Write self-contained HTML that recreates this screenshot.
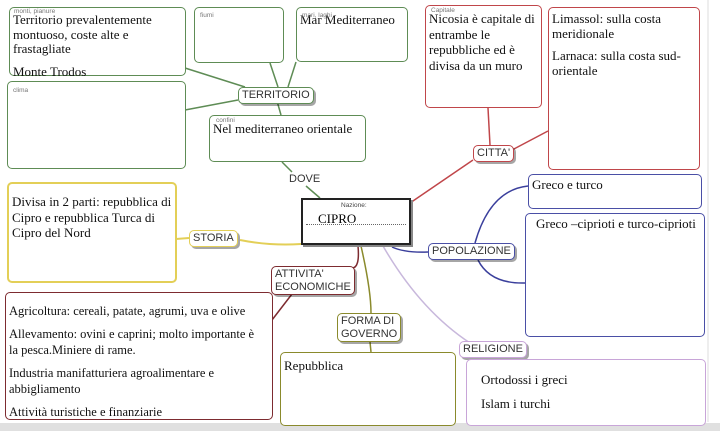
<!DOCTYPE html>
<html><head><meta charset="utf-8"><style>
*{margin:0;padding:0;box-sizing:border-box}
body{width:720px;height:431px;background:#fff;position:relative;overflow:hidden;font-family:"Liberation Serif",serif}
.b{position:absolute;border:1.5px solid;border-radius:5px;background:#fff;font-size:13px;line-height:15.5px;color:#111;padding:2px 3px}
.b div+div{margin-top:7px}
.s{position:absolute;font-family:"Liberation Sans",sans-serif;font-size:6.5px;color:#777;line-height:7px}
.l{position:absolute;border:1.5px solid;border-radius:5px;background:#fff;font-family:"Liberation Sans",sans-serif;font-size:11px;line-height:12.5px;color:#333;padding:1px 3px;box-shadow:2px 2px 0 rgba(0,0,0,.35)}
.g{border-color:#5e8c55}.r{border-color:#c0464a}.bl{border-color:#4a4fa6}.y{border-color:#e3cf57}.dr{border-color:#7d2b30}.o{border-color:#8a8a2c}.p{border-color:#c8a5d8}
</style></head><body>
<svg width="720" height="431" style="position:absolute;left:0;top:0">
<g fill="none" stroke-width="1.5">
<path d="M185 68 L245 87 M270 63 L278 87 M296 62 L288 87 M185 110 L238 100 M277 101 L281 115" stroke="#5e8c55"/>
<path d="M282 162 L292 172 M306 186 L320 198" stroke="#5e8c55"/>
<path d="M410 203 L473 160 M488 108 L490 145 M512 150 L548 131" stroke="#c0464a"/>
<path d="M392 247 Q405 253 428 252 M475 243 Q490 190 528 186 M478 260 Q490 284 525 283" stroke="#3a3f9c"/>
<path d="M176 239 L189 238 M240 240 Q270 246 301 244" stroke="#e3cf57" stroke-width="2"/>
<path d="M358 246 Q360 268 352 268 M292 294 L272 320" stroke="#7d2b30"/>
<path d="M361 246 Q371 290 371 313 M370 342 L371 352" stroke="#8a8a2c"/>
<path d="M383 246 Q420 310 470 343" stroke="#c8b8dc"/>
<line x1="708" y1="0" x2="708" y2="422" stroke="#ddd" stroke-width="1"/>
</g>
</svg>
<div style="position:absolute;left:0;top:423px;width:720px;height:8px;background:#e0e0e0"></div>

<div class="b g" style="left:9px;top:7px;width:177px;height:69px;padding:5px 20px 0 3px;line-height:14.5px;overflow:visible"><div>Territorio prevalentemente montuoso, coste alte e frastagliate</div><div style="margin-top:8px">Monte Trodos</div></div>
<div class="s" style="left:14px;top:8px">monti, pianure</div>
<div class="b g" style="left:194px;top:7px;width:90px;height:56px"></div>
<div class="s" style="left:200px;top:12px">fiumi</div>
<div class="b g" style="left:296px;top:7px;width:112px;height:55px;padding-top:4px">Mar Mediterraneo</div>
<div class="s" style="left:302px;top:12px">mari, laghi</div>
<div class="b g" style="left:7px;top:81px;width:179px;height:88px"></div>
<div class="s" style="left:13px;top:87px">clima</div>
<div class="l g" style="left:238px;top:87px">TERRITORIO</div>
<div class="b g" style="left:209px;top:115px;width:157px;height:47px;padding-top:5px">Nel mediterraneo orientale</div>
<div class="s" style="left:216px;top:117px">confini</div>
<div style="position:absolute;left:289px;top:173px;font-family:'Liberation Sans',sans-serif;font-size:11px;color:#333">DOVE</div>

<div class="b" style="left:301px;top:198px;width:110px;height:47px;border:2.5px solid #222;border-radius:0;box-shadow:2px 2px 0 #888"></div>
<div class="s" style="left:341px;top:202px;color:#444">Nazione:</div>
<div style="position:absolute;left:318px;top:211px;font-size:13px">CIPRO</div>
<div style="position:absolute;left:306px;top:224px;width:100px;border-top:1px dotted #666"></div>

<div class="b r" style="left:425px;top:5px;width:117px;height:103px;padding-top:5px">Nicosia è capitale di entrambe le repubbliche ed è divisa da un muro</div>
<div class="s" style="left:431px;top:7px">Capitale</div>
<div class="b r" style="left:548px;top:7px;width:152px;height:163px;padding-top:3px;line-height:15px"><div>Limassol: sulla costa meridionale</div><div>Larnaca: sulla costa sud-orientale</div></div>
<div class="l r" style="left:473px;top:145px">CITTA'</div>

<div class="b bl" style="left:528px;top:174px;width:174px;height:35px">Greco e turco</div>
<div class="b bl" style="left:525px;top:213px;width:180px;height:124px;padding-left:10px">Greco –ciprioti e turco-ciprioti</div>
<div class="l bl" style="left:428px;top:243px">POPOLAZIONE</div>

<div class="b y" style="left:7px;top:182px;width:170px;height:101px;padding-top:10px;border-width:2px">Divisa in 2 parti: repubblica di Cipro e repubblica Turca di Cipro del Nord</div>
<div class="l y" style="left:189px;top:230px">STORIA</div>

<div class="l dr" style="left:271px;top:266px">ATTIVITA'<br>ECONOMICHE</div>
<div class="b dr" style="left:5px;top:292px;width:268px;height:128px;padding:10px 10px 0 3px;font-size:12.5px;line-height:16px"><div>Agricoltura: cereali, patate, agrumi, uva e olive</div><div>Allevamento: ovini e caprini; molto importante è la pesca.Miniere di rame.</div><div>Industria manifatturiera agroalimentare e abbigliamento</div><div>Attività turistiche e finanziarie</div></div>

<div class="l o" style="left:337px;top:313px">FORMA DI<br>GOVERNO</div>
<div class="b o" style="left:280px;top:352px;width:176px;height:74px;padding-top:5px">Repubblica</div>

<div class="l p" style="left:459px;top:341px">RELIGIONE</div>
<div class="b p" style="left:466px;top:359px;width:240px;height:67px;padding:12px 0 0 14px;line-height:16px"><div>Ortodossi i greci</div><div style="margin-top:8px">Islam i turchi</div></div>
</body></html>
